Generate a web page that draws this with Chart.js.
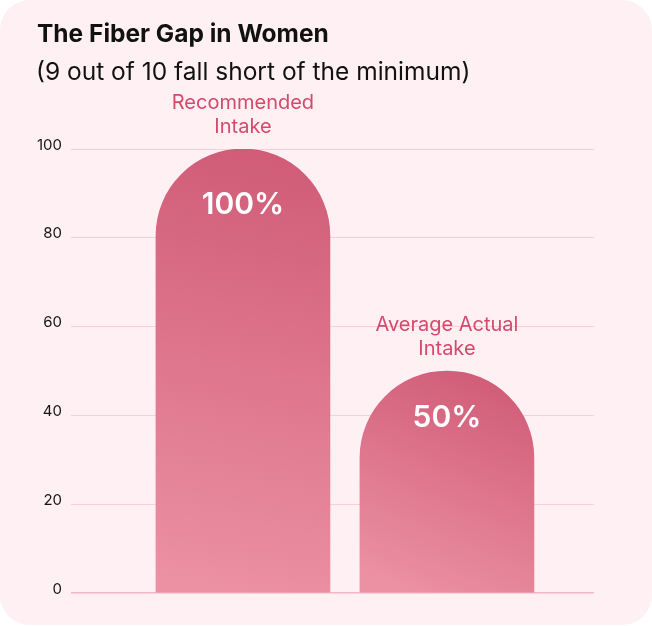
<!DOCTYPE html>
<html>
<head>
<meta charset="utf-8">
<script src="https://cdn.jsdelivr.net/npm/chart.js@4/dist/chart.umd.min.js"></script>
<style>
  html, body { margin: 0; padding: 0; background: #ffffff; }
  #card { position: absolute; left: 0; top: 0; width: 652px; height: 625px; background: #fef0f3; border-radius: 30px; overflow: hidden; }
  #title { position: absolute; left: 37px; top: 18px; font: 700 24.5px Inter, sans-serif; color: #111111; white-space: nowrap; }
  #subtitle { position: absolute; left: 36px; top: 56px; font: 400 24.5px Inter, sans-serif; color: #111111; white-space: nowrap; }
  #wrap { position: absolute; left: 0; top: 0; width: 652px; height: 626px; }
</style>
</head>
<body>
<div id="card">
  <div id="wrap"><canvas id="c"></canvas></div>
  <div id="title">The Fiber Gap in Women</div>
  <div id="subtitle">(9 out of 10 fall short of the minimum)</div>
</div>
<script>
// ---- data ----
const categories = ['Recommended Intake', 'Average Actual Intake'];
const categoryLines = [['Recommended', 'Intake'], ['Average Actual', 'Intake']];
const values = [100, 50];
const percentLabels = ['100%', '50%'];
const yTickValues = [0, 20, 40, 60, 80, 100];

// ---- styles ----
const percentOffsets = [56, 47];
const topColor = '#d05b77';
const bottomColor = '#ec91a4';

const barLabels = {
  id: 'barLabels',
  afterDatasetsDraw(chart) {
    const ctx = chart.ctx;
    const meta = chart.getDatasetMeta(0);
    ctx.save();
    ctx.textAlign = 'center';
    ctx.textBaseline = 'middle';
    meta.data.forEach((el, i) => {
      ctx.fillStyle = '#ffffff';
      ctx.font = '600 30px Inter, sans-serif';
      ctx.fillText(percentLabels[i], el.x, el.y + percentOffsets[i]);
      ctx.fillStyle = '#d6496d';
      ctx.font = '400 20px Inter, sans-serif';
      const lines = categoryLines[i];
      lines.forEach((ln, j) => {
        ctx.fillText(ln, el.x, el.y - 22 - 24 * (lines.length - 1 - j));
      });
    });
    ctx.restore();
  }
};

new Chart(document.getElementById('c'), {
  type: 'bar',
  data: {
    labels: categories,
    datasets: [{
      label: 'Fiber intake (% of minimum)',
      data: values.map((v, i) => ({ x: i, y: v })),
      barThickness: 174,
      borderRadius: { topLeft: 87, topRight: 87, bottomLeft: 0, bottomRight: 0 },
      borderSkipped: 'bottom',
      backgroundColor(context) {
        const chart = context.chart;
        if (!chart.chartArea || !chart.scales.y) return '#de7088';
        const ys = chart.scales.y, xs = chart.scales.x;
        const v = values[context.dataIndex];
        const top = ys.getPixelForValue(v);
        const bot = ys.getPixelForValue(0);
        const cx = xs.getPixelForValue(context.dataIndex);
        const g = chart.ctx.createLinearGradient(cx + 45, top, cx - 45, bot);
        g.addColorStop(0, topColor);
        g.addColorStop(1, bottomColor);
        return g;
      }
    }]
  },
  options: {
    responsive: true,
    maintainAspectRatio: false,
    animation: false,
    devicePixelRatio: 1,
    layout: { padding: { left: 31, right: 58, top: 149, bottom: 33 } },
    plugins: {
      legend: { display: false },
      tooltip: { enabled: false }
    },
    scales: {
      x: {
        type: 'linear',
        display: false,
        offset: false,
        bounds: 'data',
        min: -0.843,
        max: 1.721
      },
      y: {
        min: 0,
        max: 100,
        afterFit(scale) { scale.width = 40; },
        afterBuildTicks(scale) { scale.ticks = yTickValues.map(v => ({ value: v })); },
        border: { display: false },
        grid: {
          drawTicks: false,
          color: (ctx) => (ctx.tick && ctx.tick.value === 0) ? '#f2b6c6' : '#f7cfd9',
          lineWidth: (ctx) => (ctx.tick && ctx.tick.value === 0) ? 1.5 : 1
        },
        ticks: {
          padding: 9,
          labelOffset: -4,
          color: '#151515',
          font: { family: 'Inter, sans-serif', size: 15 }
        }
      }
    }
  },
  plugins: [barLabels]
});
</script>
</body>
</html>
